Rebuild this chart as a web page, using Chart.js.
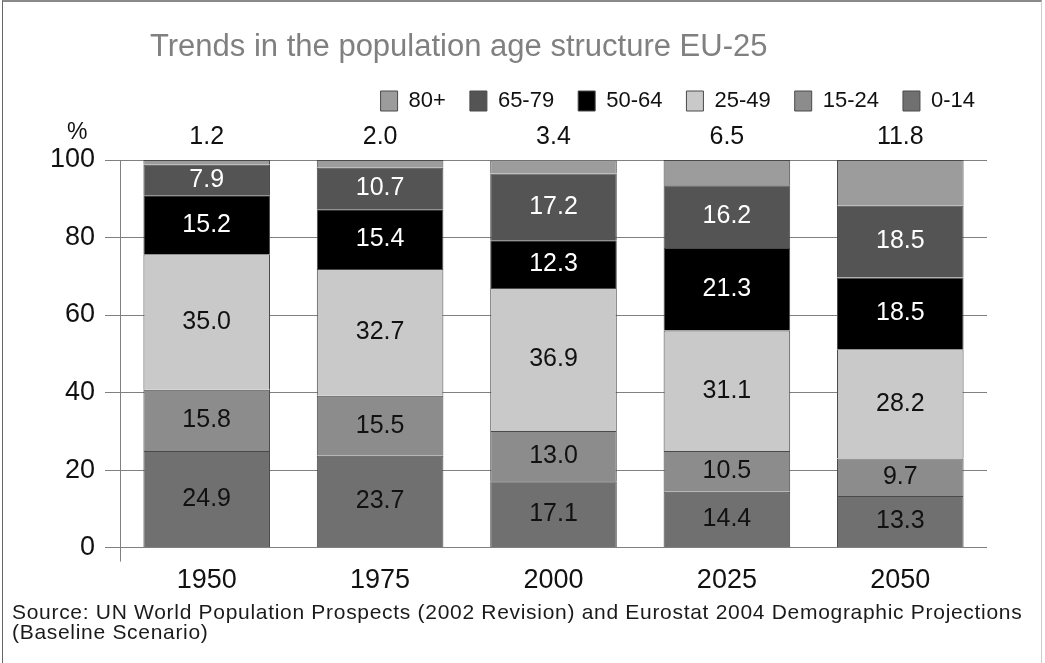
<!DOCTYPE html>
<html>
<head>
<meta charset="utf-8">
<script src="https://cdn.jsdelivr.net/npm/chart.js@4"></script>
<style>
  html, body { margin: 0; padding: 0; background: #fff; }
  #wrap { position: relative; width: 1045px; height: 663px; overflow: hidden; }
  #frame { position: absolute; left: 2px; top: 0; width: 1040px; height: 663px;
           border-top: 2px solid #8a8a8a; border-left: 1px solid #666; border-right: 1px solid #ccc;
           box-sizing: border-box; pointer-events: none; }
  #title { position: absolute; left: 150px; top: 30px; margin: 0;
           font: 31px "Liberation Sans", Arial, sans-serif; color: #808080; line-height: 1; }
  #source { position: absolute; left: 12px; top: 602px; margin: 0; letter-spacing: 0.7px;
            font: 21px "Liberation Sans", Arial, sans-serif; color: #1a1a1a; line-height: 20px; }
  canvas { position: absolute; left: 0; top: 0; }
</style>
</head>
<body>
<div id="wrap">
  <canvas id="ageChart" width="1045" height="663"></canvas>
  <div id="title">Trends in the population age structure EU-25</div>
  <div id="source">Source: UN World Population Prospects (2002 Revision) and Eurostat 2004 Demographic Projections<br>(Baseline Scenario)</div>
  <div id="frame"></div>
</div>
<script>
const years = ['1950', '1975', '2000', '2025', '2050'];

// shares of total population, %
const age0to14 = [24.9, 23.7, 17.1, 14.4, 13.3];
const age15to24 = [15.8, 15.5, 13.0, 10.5, 9.7];
const age25to49 = [35.0, 32.7, 36.9, 31.1, 28.2];
const age50to64 = [15.2, 15.4, 12.3, 21.3, 18.5];
const age65to79 = [7.9, 10.7, 17.2, 16.2, 18.5];
const age80plus = [1.2, 2.0, 3.4, 6.5, 11.8];

const yTicks = [0, 20, 40, 60, 80, 100];

const series = [
    { label: '0-14', data: age0to14, color: '#707070', text: '#111' },
    { label: '15-24', data: age15to24, color: '#8c8c8c', text: '#111' },
    { label: '25-49', data: age25to49, color: '#c9c9c9', text: '#111' },
    { label: '50-64', data: age50to64, color: '#000000', text: '#fff' },
    { label: '65-79', data: age65to79, color: '#545454', text: '#fff' },
    { label: '80+', data: age80plus, color: '#9c9c9c', text: '#111' }
];

const FONT = '"Liberation Sans", Arial, sans-serif';

// value labels: inside each segment, the oldest group above the bar
const segmentLabels = {
    id: 'segmentLabels',
    afterDatasetsDraw(chart) {
        const ctx = chart.ctx;
        const top = chart.chartArea.top;
        const last = chart.data.datasets.length - 1;
        ctx.save();
        ctx.textAlign = 'center';
        ctx.textBaseline = 'middle';
        ctx.font = '25px ' + FONT;
        chart.data.datasets.forEach((ds, i) => {
            chart.getDatasetMeta(i).data.forEach((bar, j) => {
                const txt = ds.data[j].toFixed(1);
                if (i === last) {
                    ctx.fillStyle = '#111';
                    ctx.fillText(txt, bar.x, top - 23);
                } else {
                    ctx.fillStyle = ds.textColor;
                    ctx.fillText(txt, bar.x, (bar.y + bar.base) / 2);
                }
            });
        });
        ctx.fillStyle = '#111';
        ctx.textAlign = 'left';
        ctx.font = '23px ' + FONT;
        ctx.fillText('%', chart.chartArea.left - 53, top - 27);
        ctx.restore();
    }
};

// y axis line runs a little below the zero line
const axisTail = {
    id: 'axisTail',
    afterDraw(chart) {
        const { ctx, chartArea } = chart;
        ctx.save();
        ctx.strokeStyle = '#808080';
        ctx.lineWidth = 1;
        ctx.beginPath();
        ctx.moveTo(chartArea.left + 0.5, chartArea.bottom);
        ctx.lineTo(chartArea.left + 0.5, chartArea.bottom + 14);
        ctx.stroke();
        ctx.restore();
    }
};

// extra room between legend and plot for the 80+ values
const legendGap = {
    id: 'legendGap',
    beforeInit(chart) {
        const fit = chart.legend.fit;
        chart.legend.fit = function () {
            fit.call(this);
            this.height += 38;
        };
    }
};

new Chart(document.getElementById('ageChart').getContext('2d'), {
    type: 'bar',
    data: {
        labels: years,
        datasets: series.map(s => ({
            label: s.label,
            data: s.data,
            backgroundColor: s.color,
            borderColor: '#4a4a4a',
            borderWidth: 1,
            textColor: s.text,
            barPercentage: 0.73,
            categoryPercentage: 1.0
        }))
    },
    options: {
        responsive: false,
        animation: false,
        layout: { padding: { top: 66, left: 12, right: 46, bottom: 57 } },
        plugins: {
            title: { display: false },
            tooltip: { enabled: false },
            legend: {
                position: 'top',
                align: 'end',
                reverse: true,
                labels: {
                    font: { family: FONT, size: 22 },
                    color: '#111',
                    boxWidth: 17,
                    boxHeight: 20,
                    padding: 24
                }
            }
        },
        scales: {
            x: {
                stacked: true,
                grid: { display: false },
                border: { display: false },
                ticks: { font: { family: FONT, size: 27 }, color: '#111', padding: 9 }
            },
            y: {
                stacked: true,
                min: 0,
                max: 100,
                afterFit(scale) { scale.width = 108; },
                afterBuildTicks(scale) { scale.ticks = yTicks.map(v => ({ value: v })); },
                grid: { color: '#808080', tickLength: 15, tickColor: '#808080' },
                border: { display: true, color: '#808080' },
                ticks: { font: { family: FONT, size: 27 }, color: '#111', padding: 10 }
            },
            // empty strip on the right so the plot stops short of the legend's edge
            yRight: {
                position: 'right',
                grid: { display: false },
                border: { display: false },
                ticks: { display: false },
                afterFit(scale) { scale.width = 12; }
            }
        }
    },
    plugins: [segmentLabels, axisTail, legendGap]
});
</script>
</body>
</html>
